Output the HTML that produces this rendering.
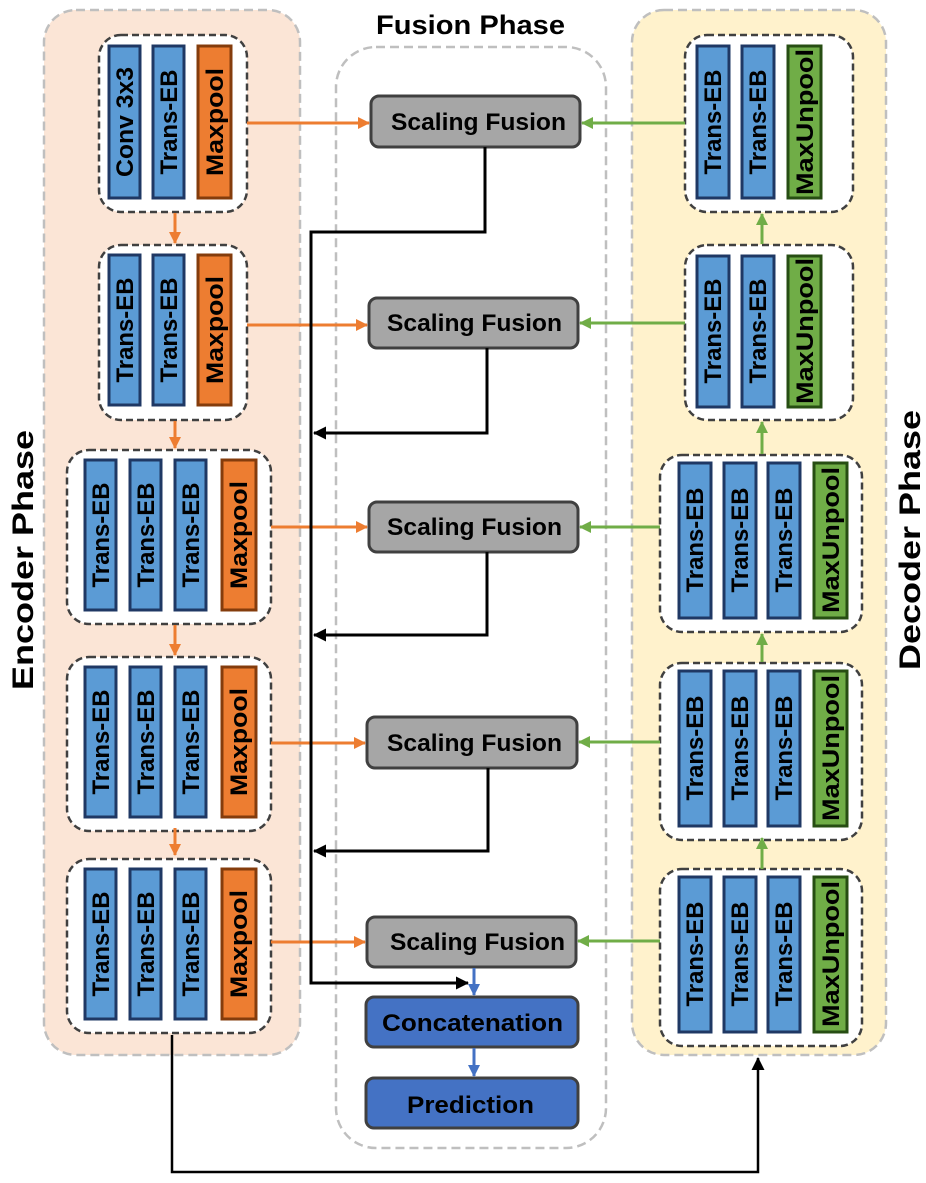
<!DOCTYPE html>
<html><head><meta charset="utf-8"><style>
html,body{margin:0;padding:0;background:#fff}
svg{display:block}
text{font-family:"Liberation Sans",sans-serif;font-weight:bold;fill:#000}
.bar{fill:#5b9bd5;stroke:#1f3864;stroke-width:3}
.mp{fill:#ed7d31;stroke:#843c0c;stroke-width:3}
.mu{fill:#70ad47;stroke:#274e13;stroke-width:3}
.grp{fill:#fff;stroke:#404040;stroke-width:2.5;stroke-dasharray:7 4}
.sf{fill:#a6a6a6;stroke:#404040;stroke-width:3}
.bl{fill:#4472c4;stroke:#404040;stroke-width:3}
.bt{font-size:24px}
</style></head><body>
<svg width="926" height="1183" viewBox="0 0 926 1183" xmlns="http://www.w3.org/2000/svg">
<defs>
<marker id="ao" markerWidth="12" markerHeight="12" refX="11" refY="6" orient="auto" markerUnits="userSpaceOnUse"><path d="M0,0 L12,6 L0,12z" fill="#ed7d31"/></marker>
<marker id="ag" markerWidth="12" markerHeight="12" refX="11" refY="6" orient="auto" markerUnits="userSpaceOnUse"><path d="M0,0 L12,6 L0,12z" fill="#70ad47"/></marker>
<marker id="ak" markerWidth="13" markerHeight="13" refX="12" refY="6.5" orient="auto" markerUnits="userSpaceOnUse"><path d="M0,0 L13,6.5 L0,13z" fill="#000"/></marker>
<marker id="ab" markerWidth="12" markerHeight="12" refX="11" refY="6" orient="auto" markerUnits="userSpaceOnUse"><path d="M0,0 L12,6 L0,12z" fill="#4472c4"/></marker>
</defs>
<!-- panels -->
<rect x="44" y="10" width="256" height="1045" rx="32" fill="#fbe5d6" stroke="#bfbfbf" stroke-width="2.5" stroke-dasharray="9 5"/>
<rect x="336" y="47" width="270" height="1101" rx="40" fill="#fff" stroke="#bfbfbf" stroke-width="2.5" stroke-dasharray="9 5"/>
<rect x="632" y="10" width="254" height="1045" rx="32" fill="#fff2cc" stroke="#bfbfbf" stroke-width="2.5" stroke-dasharray="9 5"/>
<text x="376" y="34" font-size="27" textLength="189" lengthAdjust="spacingAndGlyphs">Fusion Phase</text>
<text transform="translate(33,690) rotate(-90)" font-size="30" textLength="260" lengthAdjust="spacingAndGlyphs">Encoder Phase</text>
<text transform="translate(920,670) rotate(-90)" font-size="30" textLength="260" lengthAdjust="spacingAndGlyphs">Decoder Phase</text>

<!-- encoder groups -->
<rect class="grp" x="99" y="35" width="148" height="177" rx="22"/>
<rect class="bar" x="109" y="46" width="31" height="152"/><text class="bt" transform="translate(133,122) rotate(-90)" text-anchor="middle" textLength="110" lengthAdjust="spacingAndGlyphs">Conv 3x3</text>
<rect class="bar" x="153" y="46" width="31" height="152"/><text class="bt" transform="translate(177,122) rotate(-90)" text-anchor="middle" textLength="105" lengthAdjust="spacingAndGlyphs">Trans-EB</text>
<rect class="mp" x="198" y="46" width="33" height="152"/><text class="bt" transform="translate(223,122) rotate(-90)" text-anchor="middle" textLength="108" lengthAdjust="spacingAndGlyphs">Maxpool</text>

<rect class="grp" x="99" y="245" width="148" height="175" rx="22"/>
<rect class="bar" x="109" y="255" width="31" height="150"/><text class="bt" transform="translate(133,330) rotate(-90)" text-anchor="middle" textLength="105" lengthAdjust="spacingAndGlyphs">Trans-EB</text>
<rect class="bar" x="153" y="255" width="31" height="150"/><text class="bt" transform="translate(177,330) rotate(-90)" text-anchor="middle" textLength="105" lengthAdjust="spacingAndGlyphs">Trans-EB</text>
<rect class="mp" x="198" y="255" width="33" height="150"/><text class="bt" transform="translate(223,330) rotate(-90)" text-anchor="middle" textLength="108" lengthAdjust="spacingAndGlyphs">Maxpool</text>

<g id="e3">
<rect class="grp" x="67" y="450" width="204" height="174" rx="22"/>
<rect class="bar" x="85" y="460" width="31" height="150"/><text class="bt" transform="translate(109,535) rotate(-90)" text-anchor="middle" textLength="105" lengthAdjust="spacingAndGlyphs">Trans-EB</text>
<rect class="bar" x="130" y="460" width="31" height="150"/><text class="bt" transform="translate(154,535) rotate(-90)" text-anchor="middle" textLength="105" lengthAdjust="spacingAndGlyphs">Trans-EB</text>
<rect class="bar" x="175" y="460" width="31" height="150"/><text class="bt" transform="translate(199,535) rotate(-90)" text-anchor="middle" textLength="105" lengthAdjust="spacingAndGlyphs">Trans-EB</text>
<rect class="mp" x="222" y="460" width="34" height="150"/><text class="bt" transform="translate(247,535) rotate(-90)" text-anchor="middle" textLength="108" lengthAdjust="spacingAndGlyphs">Maxpool</text>
</g>
<use href="#e3" transform="translate(0,207)"/>
<use href="#e3" transform="translate(0,409)"/>

<!-- encoder down arrows -->
<g stroke="#ed7d31" stroke-width="3" marker-end="url(#ao)">
<line x1="175" y1="213" x2="175" y2="243"/>
<line x1="175" y1="421" x2="175" y2="448"/>
<line x1="175" y1="625" x2="175" y2="655"/>
<line x1="175" y1="828" x2="175" y2="855"/>
</g>

<!-- decoder groups -->
<rect class="grp" x="685" y="35" width="168" height="177" rx="22"/>
<rect class="bar" x="697" y="46" width="32" height="152"/><text class="bt" transform="translate(721,122) rotate(-90)" text-anchor="middle" textLength="105" lengthAdjust="spacingAndGlyphs">Trans-EB</text>
<rect class="bar" x="742" y="46" width="32" height="152"/><text class="bt" transform="translate(766,122) rotate(-90)" text-anchor="middle" textLength="105" lengthAdjust="spacingAndGlyphs">Trans-EB</text>
<rect class="mu" x="788" y="46" width="33" height="152"/><text class="bt" transform="translate(813,122) rotate(-90)" text-anchor="middle" textLength="146" lengthAdjust="spacingAndGlyphs">MaxUnpool</text>

<rect class="grp" x="685" y="245" width="168" height="175" rx="22"/>
<rect class="bar" x="697" y="256" width="32" height="151"/><text class="bt" transform="translate(721,331) rotate(-90)" text-anchor="middle" textLength="105" lengthAdjust="spacingAndGlyphs">Trans-EB</text>
<rect class="bar" x="742" y="256" width="32" height="151"/><text class="bt" transform="translate(766,331) rotate(-90)" text-anchor="middle" textLength="105" lengthAdjust="spacingAndGlyphs">Trans-EB</text>
<rect class="mu" x="788" y="256" width="33" height="151"/><text class="bt" transform="translate(813,331) rotate(-90)" text-anchor="middle" textLength="146" lengthAdjust="spacingAndGlyphs">MaxUnpool</text>

<g id="d3">
<rect class="grp" x="660" y="455" width="202" height="177" rx="22"/>
<rect class="bar" x="679" y="463" width="32" height="155"/><text class="bt" transform="translate(703,540) rotate(-90)" text-anchor="middle" textLength="105" lengthAdjust="spacingAndGlyphs">Trans-EB</text>
<rect class="bar" x="724" y="463" width="32" height="155"/><text class="bt" transform="translate(748,540) rotate(-90)" text-anchor="middle" textLength="105" lengthAdjust="spacingAndGlyphs">Trans-EB</text>
<rect class="bar" x="768" y="463" width="32" height="155"/><text class="bt" transform="translate(792,540) rotate(-90)" text-anchor="middle" textLength="105" lengthAdjust="spacingAndGlyphs">Trans-EB</text>
<rect class="mu" x="814" y="463" width="33" height="155"/><text class="bt" transform="translate(839,540) rotate(-90)" text-anchor="middle" textLength="146" lengthAdjust="spacingAndGlyphs">MaxUnpool</text>
</g>
<use href="#d3" transform="translate(0,208)"/>
<use href="#d3" transform="translate(0,414)"/>

<g stroke="#70ad47" stroke-width="3" marker-end="url(#ag)">
<line x1="762" y1="244" x2="762" y2="214"/>
<line x1="762" y1="454" x2="762" y2="422"/>
<line x1="762" y1="662" x2="762" y2="634"/>
<line x1="762" y1="869" x2="762" y2="838"/>
</g>

<!-- scaling fusion -->
<rect class="sf" x="371" y="96" width="209" height="51" rx="8"/><text x="391" y="130" font-size="24" textLength="175" lengthAdjust="spacingAndGlyphs">Scaling Fusion</text>
<rect class="sf" x="369" y="298" width="209" height="50" rx="8"/><text x="387" y="331" font-size="24" textLength="175" lengthAdjust="spacingAndGlyphs">Scaling Fusion</text>
<rect class="sf" x="369" y="502" width="209" height="50" rx="8"/><text x="387" y="535" font-size="24" textLength="175" lengthAdjust="spacingAndGlyphs">Scaling Fusion</text>
<rect class="sf" x="367" y="717" width="210" height="51" rx="8"/><text x="387" y="751" font-size="24" textLength="175" lengthAdjust="spacingAndGlyphs">Scaling Fusion</text>
<rect class="sf" x="367" y="917" width="209" height="50" rx="8"/><text x="390" y="950" font-size="24" textLength="175" lengthAdjust="spacingAndGlyphs">Scaling Fusion</text>
<rect class="bl" x="366" y="997" width="212" height="50" rx="8"/><text x="382" y="1031" font-size="24" textLength="181" lengthAdjust="spacingAndGlyphs">Concatenation</text>
<rect class="bl" x="366" y="1078" width="212" height="50" rx="8"/><text x="407" y="1113" font-size="24" textLength="127" lengthAdjust="spacingAndGlyphs">Prediction</text>

<!-- orange horizontal -->
<g stroke="#ed7d31" stroke-width="3" marker-end="url(#ao)">
<line x1="247" y1="123" x2="369" y2="123"/>
<line x1="247" y1="325" x2="367" y2="325"/>
<line x1="271" y1="527" x2="367" y2="527"/>
<line x1="271" y1="743" x2="365" y2="743"/>
<line x1="271" y1="942" x2="365" y2="942"/>
</g>
<g stroke="#70ad47" stroke-width="3" marker-end="url(#ag)">
<line x1="685" y1="123" x2="582" y2="123"/>
<line x1="685" y1="323" x2="580" y2="323"/>
<line x1="660" y1="527" x2="580" y2="527"/>
<line x1="660" y1="742" x2="579" y2="742"/>
<line x1="660" y1="941" x2="578" y2="941"/>
</g>
<g stroke="#4472c4" stroke-width="3" marker-end="url(#ab)">
<line x1="474" y1="968" x2="474" y2="995"/>
<line x1="474" y1="1048" x2="474" y2="1076"/>
</g>
<!-- black lines -->
<g stroke="#000" stroke-width="3" fill="none">
<polyline points="485,147 485,232 311,232 311,983 468,983" marker-end="url(#ak)"/>
<polyline points="487,348 487,433 314,433" marker-end="url(#ak)"/>
<polyline points="487,552 487,635 314,635" marker-end="url(#ak)"/>
<polyline points="488,768 488,851 314,851" marker-end="url(#ak)"/>
<polyline points="172,1035 172,1172 758,1172 758,1058" stroke-width="2.5" marker-end="url(#ak)"/>
</g>
</svg>
</body></html>
